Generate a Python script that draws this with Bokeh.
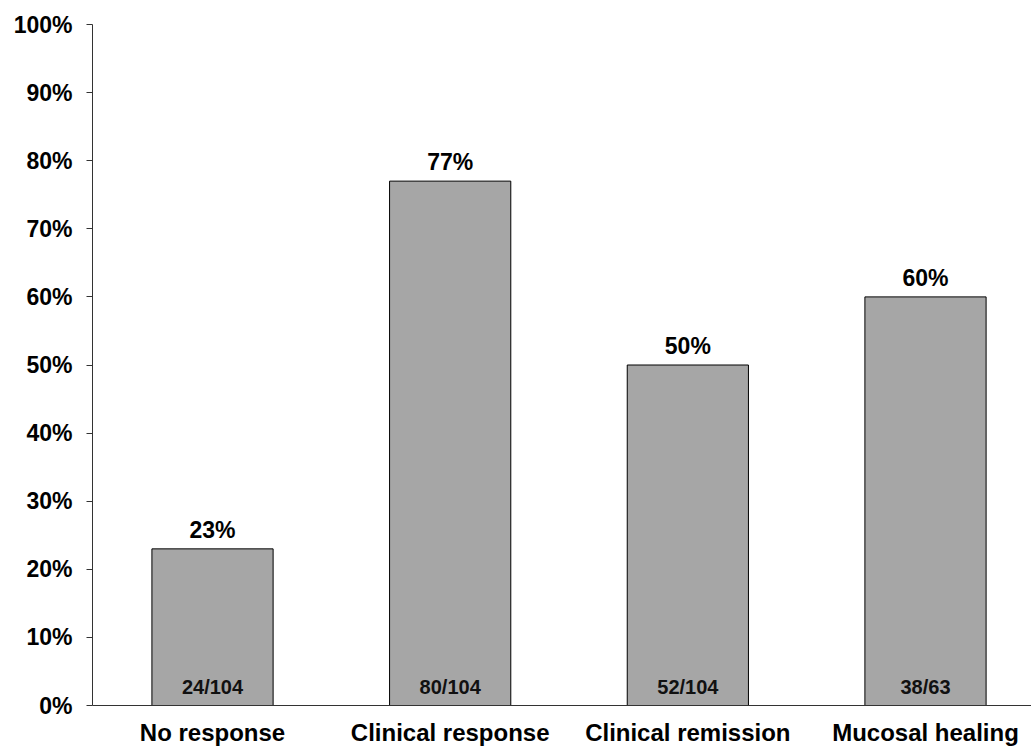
from bokeh.plotting import figure
from bokeh.models import ColumnDataSource, FixedTicker, PrintfTickFormatter, Range1d
from bokeh.core.properties import value
from bokeh.embed import file_html
from bokeh.resources import INLINE

categories = ["No response", "Clinical response", "Clinical remission", "Mucosal healing"]
percent = [23, 77, 50, 60]
pct_labels = ["23%", "77%", "50%", "60%"]
fractions = ["24/104", "80/104", "52/104", "38/63"]
y_ticks = [0, 10, 20, 30, 40, 50, 60, 70, 80, 90, 100]

xpos = list(range(1, len(categories) + 1))
src = ColumnDataSource(dict(x=xpos, top=percent, lab=pct_labels, frac=fractions,
                            zero=[0] * len(xpos)))

FONT = "Liberation Sans"

p = figure(width=1031, height=748, output_backend="svg", toolbar_location=None,
           x_range=Range1d(0.495, 4.446), y_range=Range1d(0, 100),
           min_border_left=92, min_border_top=24, min_border_bottom=42, min_border_right=0)
p.outline_line_color = None
p.grid.grid_line_color = None
p.background_fill_color = "white"

p.vbar(x="x", top="top", width=0.51, bottom=0, source=src,
       fill_color="#A6A6A6", line_color="black", line_width=1)

p.text(x="x", y="top", text="lab", source=src, text_align="center", text_baseline="bottom",
       y_offset=-6, text_font=value(FONT), text_font_style="bold", text_font_size="23px",
       text_color="black")
p.text(x="x", y="zero", text="frac", source=src, text_align="center", text_baseline="bottom",
       y_offset=-8, text_font=value(FONT), text_font_style="bold", text_font_size="20px",
       text_color="#111111")

# y axis
ya = p.yaxis[0]
ya.ticker = FixedTicker(ticks=y_ticks)
ya.formatter = PrintfTickFormatter(format="%d%%")
ya.major_tick_out = 6
ya.major_tick_in = 0
ya.minor_tick_out = 0
ya.minor_tick_in = 0
ya.axis_line_color = "#333333"
ya.major_tick_line_color = "#333333"
ya.major_label_text_font = FONT
ya.major_label_text_font_style = "bold"
ya.major_label_text_font_size = "23px"
ya.major_label_text_color = "black"
ya.major_label_standoff = 14

# x axis
xa = p.xaxis[0]
xa.ticker = FixedTicker(ticks=xpos)
xa.major_label_overrides = {x: c for x, c in zip(xpos, categories)}
xa.major_tick_out = 0
xa.major_tick_in = 0
xa.minor_tick_out = 0
xa.minor_tick_in = 0
xa.axis_line_color = "#333333"
xa.major_label_text_font = FONT
xa.major_label_text_font_style = "bold"
xa.major_label_text_font_size = "24px"
xa.major_label_text_color = "black"
xa.major_label_standoff = 13

open("out.html", "w").write(file_html(p, INLINE))
